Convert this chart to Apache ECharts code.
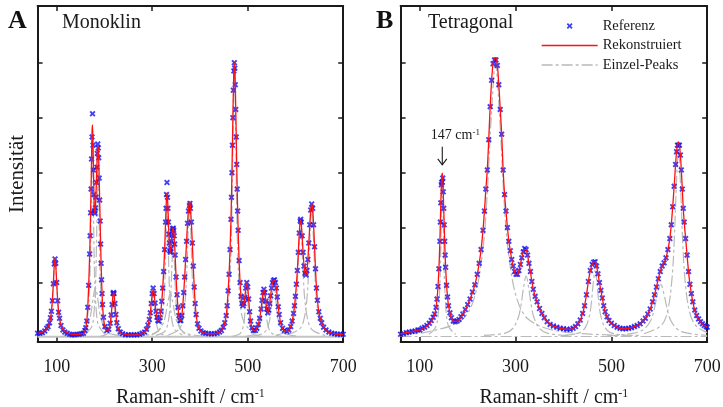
<!DOCTYPE html>
<html><head><meta charset="utf-8">
<script src="https://cdn.jsdelivr.net/npm/echarts@6/dist/echarts.min.js"></script>
<style>html,body{margin:0;padding:0;background:#fff}#c{width:723px;height:407px}</style>
</head><body><div id="c"></div>
<script>
// ---------- Data ----------
const xTicks = [100, 300, 500, 700];
const yTicks = [1, 2, 3, 4, 5];

// Panel A (Monoklin): wavenumbers, reconstructed fit, reference data
const xA = [60,65,70,75,79,82,85,87,89,91,93,95,96.5,98,100,102,104,106,109,113,117,122,127,132,137,142,147,152,156,159,161,163,165,167,169,170,171,172,173,174,175,176,177,178,179,180,181,182,183,184,185,186,187,188,189,190,191,192,193,194,195,196,198,201,205,209,212,214,216,218,219,220,222,224,226,229,233,238,244,250,256,262,268,274,279,284,288,291,294,296,298,300,302,304,306,308,310,312,314,316,318,320,322,324,326,328,329,330,331,332,333,334,335,336,337,338,339,340,341,342,343,344,345,346,347,348,350,352,354,356,358,360,362,364,366,368,370,372,374,376,378,379,380,382,384,386,388,390,392,395,398,402,407,412,418,424,430,436,441,445,449,452,455,457,459,461,463,465,466,467,468,469,470,471,472,473,474,475,476,477,478,479,480,482,484,486,488,490,492,494,496,498,500,502,504,506,509,512,516,519,522,525,528,530,532,534,536,538,540,542,544,546,548,550,552,554,556,558,560,562,564,566,569,573,577,582,586,590,593,596,598,600,602,604,606,608,610,611,612,614,616,618,620,622,624,626,628,630,632,634,636,638,640,642,644,646,649,652,655,659,664,670,676,682,688,694,700];
const fitA = [0.08,0.085,0.1,0.12,0.16,0.2,0.27,0.35,0.48,0.68,0.99,1.33,1.45,1.33,0.99,0.68,0.47,0.34,0.23,0.15,0.11,0.09,0.07,0.06,0.06,0.06,0.06,0.07,0.08,0.12,0.18,0.3,0.55,0.95,1.5,1.85,2.25,2.7,3.25,3.75,3.87,3.55,3.05,2.6,2.32,2.26,2.35,2.55,2.8,3.1,3.35,3.5,3.45,3.25,2.9,2.5,2.1,1.7,1.35,1.05,0.8,0.6,0.36,0.2,0.13,0.15,0.25,0.4,0.6,0.78,0.82,0.8,0.62,0.42,0.27,0.16,0.1,0.07,0.06,0.05,0.05,0.05,0.05,0.06,0.08,0.1,0.15,0.22,0.33,0.45,0.62,0.78,0.87,0.8,0.63,0.48,0.37,0.31,0.3,0.36,0.48,0.65,0.9,1.2,1.6,2.1,2.35,2.55,2.63,2.55,2.35,2.1,1.88,1.7,1.58,1.55,1.62,1.75,1.86,1.94,1.98,1.99,1.95,1.85,1.7,1.5,1.1,0.78,0.55,0.4,0.31,0.31,0.4,0.58,0.82,1.1,1.42,1.75,2.08,2.33,2.47,2.46,2.38,2.1,1.72,1.3,0.92,0.62,0.42,0.25,0.17,0.12,0.09,0.08,0.07,0.07,0.07,0.08,0.1,0.13,0.19,0.27,0.4,0.58,0.85,1.15,1.6,2.15,2.55,3.0,3.5,4.0,4.5,4.85,5.0,4.9,4.6,4.15,3.65,3.15,2.7,2.3,1.95,1.4,1.0,0.75,0.62,0.58,0.62,0.73,0.9,0.99,0.92,0.7,0.47,0.3,0.18,0.13,0.13,0.17,0.24,0.35,0.52,0.68,0.82,0.88,0.82,0.66,0.52,0.45,0.5,0.62,0.76,0.9,1.0,1.04,1.05,1.0,0.9,0.74,0.56,0.42,0.27,0.17,0.13,0.11,0.14,0.2,0.3,0.44,0.58,0.75,0.97,1.22,1.55,1.9,2.12,2.15,2.1,1.85,1.55,1.3,1.17,1.14,1.22,1.42,1.72,2.05,2.32,2.43,2.35,2.05,1.65,1.25,0.9,0.68,0.47,0.35,0.27,0.19,0.14,0.1,0.08,0.07,0.06,0.06,0.06];
const refA = [0.08,0.08,0.09,0.12,0.17,0.2,0.27,0.36,0.48,0.67,0.98,1.34,1.43,1.35,1.0,0.67,0.46,0.35,0.22,0.14,0.1,0.08,0.06,0.05,0.05,0.06,0.06,0.07,0.08,0.13,0.18,0.3,0.55,0.95,1.52,1.85,2.27,2.7,3.25,3.65,4.07,3.5,3.05,2.6,2.3,2.26,2.36,2.55,2.82,3.1,3.35,3.52,3.45,3.27,2.9,2.5,2.12,1.7,1.35,1.05,0.8,0.6,0.37,0.2,0.13,0.15,0.26,0.41,0.6,0.8,0.82,0.8,0.62,0.42,0.27,0.16,0.1,0.07,0.05,0.05,0.05,0.05,0.05,0.06,0.08,0.1,0.15,0.23,0.33,0.45,0.62,0.8,0.9,0.8,0.63,0.48,0.37,0.31,0.3,0.36,0.48,0.66,0.9,1.2,1.6,2.1,2.35,2.6,2.82,2.55,2.35,2.1,1.88,1.72,1.58,1.55,1.62,1.75,1.86,1.94,1.98,1.99,1.95,1.85,1.7,1.5,1.1,0.78,0.55,0.4,0.31,0.31,0.4,0.58,0.82,1.1,1.42,1.75,2.08,2.3,2.4,2.44,2.35,2.1,1.72,1.3,0.92,0.62,0.42,0.25,0.17,0.12,0.09,0.08,0.07,0.07,0.07,0.08,0.1,0.13,0.19,0.27,0.4,0.58,0.85,1.15,1.6,2.15,2.55,3.0,3.5,4.0,4.5,4.85,5.0,4.9,4.6,4.15,3.65,3.15,2.7,2.3,1.95,1.4,1.0,0.75,0.62,0.58,0.62,0.73,0.9,1.0,0.92,0.7,0.47,0.3,0.18,0.13,0.13,0.17,0.24,0.35,0.52,0.68,0.82,0.88,0.82,0.66,0.52,0.45,0.5,0.62,0.76,0.9,1.0,1.04,1.05,1.0,0.9,0.74,0.56,0.42,0.27,0.17,0.13,0.11,0.14,0.2,0.3,0.44,0.58,0.75,0.97,1.22,1.55,1.9,2.12,2.15,2.1,1.85,1.55,1.3,1.17,1.14,1.22,1.42,1.72,2.05,2.32,2.43,2.35,2.05,1.65,1.25,0.9,0.68,0.47,0.35,0.27,0.19,0.14,0.1,0.08,0.07,0.06,0.06,0.06];

// Panel B (Tetragonal)
const xB = [60,66,72,78,84,90,96,100,105,110,115,120,124,128,131,134,136,138,140,142,143,144,145,146,147,148,149,150,151,152,153,154,156,158,160,163,166,170,174,178,182,186,190,195,200,205,210,215,220,224,228,232,235,238,241,244,247,250,253,256,259,262,265,268,271,274,277,280,283,286,289,292,295,298,301,304,307,310,313,316,319,322,325,328,331,334,337,341,345,350,355,360,366,372,379,386,393,400,407,414,420,425,430,435,440,444,448,452,456,460,463,466,469,472,475,478,481,484,487,491,495,500,506,512,518,524,530,536,542,548,554,560,566,571,576,581,586,590,594,598,602,606,610,614,618,622,625,628,631,634,636,638,640,642,644,646,648,650,652,655,658,661,664,667,670,674,678,682,686,690,694,698,700];
const fitB = [0.07,0.08,0.09,0.1,0.11,0.12,0.13,0.14,0.16,0.18,0.21,0.25,0.3,0.36,0.42,0.55,0.7,0.92,1.25,1.75,2.1,2.45,2.75,2.93,2.99,2.9,2.65,2.35,2.05,1.75,1.5,1.28,0.95,0.74,0.58,0.45,0.36,0.31,0.29,0.3,0.33,0.37,0.43,0.5,0.6,0.7,0.82,0.96,1.15,1.35,1.6,1.95,2.3,2.7,3.05,3.6,4.2,4.68,4.98,5.08,5.09,4.95,4.6,4.15,3.7,3.05,2.6,2.3,2.0,1.75,1.58,1.42,1.3,1.2,1.13,1.15,1.22,1.33,1.45,1.56,1.6,1.6,1.5,1.35,1.2,1.02,0.88,0.75,0.65,0.53,0.44,0.36,0.29,0.24,0.21,0.19,0.17,0.16,0.15,0.15,0.17,0.2,0.25,0.32,0.44,0.58,0.78,1.02,1.22,1.33,1.37,1.38,1.3,1.16,1.0,0.86,0.72,0.58,0.47,0.38,0.31,0.26,0.22,0.19,0.17,0.16,0.16,0.17,0.18,0.2,0.22,0.25,0.3,0.35,0.43,0.52,0.65,0.78,0.92,1.07,1.2,1.3,1.36,1.45,1.6,1.8,2.05,2.38,2.75,3.15,3.38,3.52,3.56,3.5,3.32,3.05,2.7,2.35,2.1,1.8,1.5,1.2,0.97,0.8,0.65,0.5,0.4,0.34,0.29,0.25,0.22,0.2,0.19];
const refB = [0.06,0.07,0.09,0.1,0.11,0.12,0.14,0.14,0.17,0.19,0.22,0.26,0.31,0.37,0.43,0.55,0.7,0.93,1.25,1.75,2.1,2.45,2.78,2.82,2.83,2.9,2.65,2.35,2.05,1.75,1.5,1.28,0.95,0.74,0.58,0.45,0.36,0.3,0.29,0.3,0.33,0.38,0.43,0.51,0.6,0.7,0.83,0.96,1.15,1.35,1.6,1.95,2.3,2.7,3.05,3.6,4.2,4.68,4.98,5.05,5.05,4.95,4.6,4.15,3.7,3.05,2.6,2.3,2.0,1.75,1.58,1.42,1.3,1.2,1.15,1.15,1.22,1.33,1.45,1.56,1.62,1.6,1.5,1.35,1.2,1.02,0.88,0.75,0.65,0.53,0.44,0.36,0.29,0.24,0.21,0.19,0.17,0.16,0.15,0.15,0.17,0.2,0.25,0.32,0.44,0.58,0.78,1.02,1.22,1.33,1.37,1.38,1.3,1.16,1.0,0.86,0.72,0.58,0.47,0.38,0.31,0.26,0.22,0.19,0.17,0.16,0.16,0.17,0.18,0.2,0.22,0.25,0.3,0.35,0.43,0.52,0.65,0.78,0.92,1.07,1.2,1.3,1.36,1.45,1.6,1.8,2.05,2.38,2.75,3.15,3.38,3.5,3.5,3.5,3.32,3.05,2.7,2.35,2.1,1.8,1.5,1.2,0.97,0.8,0.65,0.5,0.4,0.34,0.29,0.25,0.22,0.2,0.19];

// Single fitted peaks (Einzel-Peaks), each as x and y lists
const peaksAX = [
  [60,74.5,82.75,88.25,91,93.75,96.5,99.25,102,104.75,110.25,118.5,140.5],
  [148,161,166,169.5,171.2,172.9,174.5,176.1,177.8,179.5,182.8,187.7,201],
  [160,173.3,178.2,181.5,183.2,184.9,186.5,188.1,189.8,191.5,194.8,199.7,213],
  [109,145,158.5,167.5,172,176.5,181,185.5,190,194.5,203.5,217,253],
  [190.5,204.5,209.75,213.25,215,216.75,218.5,220.25,222,223.75,227.25,232.5,246.5],
  [266,284,290.75,295.25,297.5,299.75,302,304.25,306.5,308.75,313.25,320,338],
  [299,315,321,325,327,329,331,333,335,337,341,347,363],
  [258,298,313,323,328,333,338,343,348,353,363,378,418],
  [308,326,332.75,337.25,339.5,341.75,344,346.25,348.5,350.75,355.25,362,380],
  [334,356,364.25,369.75,372.5,375.25,378,380.75,383.5,386.25,391.75,400,422],
  [433.6,452.8,460,464.8,467.2,469.6,472,474.4,476.8,479.2,484,491.2,510.4],
  [466,482,488,492,494,496,498,500,502,504,508,514,530],
  [494,514,521.5,526.5,529,531.5,534,536.5,539,541.5,546.5,554,574],
  [507,531,540,546,549,552,555,558,561,564,570,579,603],
  [558.5,584.5,594.25,600.75,604,607.25,610.5,613.75,617,620.25,626.75,636.5,662.5],
  [582,608,617.75,624.25,627.5,630.75,634,637.25,640.5,643.75,650.25,660,686]
];
const peaksAY = [
  [0.04,0.09,0.2,0.44,0.71,1.13,1.41,1.13,0.71,0.44,0.2,0.09,0.03],
  [0.06,0.22,0.5,1.1,1.79,2.85,3.56,2.85,1.79,1.1,0.5,0.22,0.06],
  [0.06,0.2,0.46,1.01,1.63,2.61,3.26,2.61,1.63,1.01,0.46,0.2,0.06],
  [0.02,0.06,0.13,0.29,0.46,0.73,0.91,0.73,0.46,0.29,0.13,0.06,0.02],
  [0.02,0.06,0.12,0.25,0.4,0.63,0.79,0.63,0.4,0.25,0.12,0.06,0.02],
  [0.02,0.06,0.12,0.26,0.41,0.65,0.81,0.65,0.41,0.26,0.12,0.06,0.02],
  [0.05,0.15,0.33,0.73,1.19,1.89,2.36,1.89,1.19,0.73,0.33,0.15,0.05],
  [0.02,0.06,0.12,0.26,0.41,0.65,0.81,0.65,0.41,0.26,0.12,0.06,0.02],
  [0.04,0.11,0.25,0.55,0.89,1.41,1.76,1.41,0.89,0.55,0.25,0.11,0.04],
  [0.05,0.15,0.34,0.75,1.21,1.93,2.41,1.93,1.21,0.75,0.34,0.15,0.05],
  [0.09,0.3,0.69,1.53,2.49,3.97,4.96,3.97,2.49,1.53,0.69,0.3,0.09],
  [0.02,0.06,0.13,0.27,0.44,0.69,0.86,0.69,0.44,0.27,0.13,0.06,0.02],
  [0.02,0.06,0.12,0.26,0.41,0.65,0.81,0.65,0.41,0.26,0.12,0.06,0.02],
  [0.025,0.07,0.15,0.32,0.51,0.81,1.01,0.81,0.51,0.32,0.15,0.07,0.025],
  [0.04,0.13,0.29,0.63,1.01,1.61,2.01,1.61,1.01,0.63,0.29,0.13,0.04],
  [0.05,0.15,0.33,0.73,1.19,1.89,2.36,1.89,1.19,0.73,0.33,0.15,0.05]
];
const peaksBX = [
  [119,133,138.25,141.75,143.5,145.25,147,148.75,150.5,152.25,155.75,161,175],
  [60,114,186,213,231,240,249,258,267,276,285,303,330,402,560],
  [234,278,294.5,305.5,311,316.5,322,327.5,333,338.5,349.5,366,410],
  [402,434,446,454,458,462,466,470,474,478,486,498,530],
  [491,547,568,582,589,596,603,610,617,624,638,659,700],
  [568,604,617.5,626.5,631,635.5,640,644.5,649,653.5,662.5,676,700]
];
const peaksBY = [
  [0.06,0.19,0.41,0.9,1.45,2.3,2.87,2.3,1.45,0.9,0.41,0.19,0.06],
  [0.06,0.1,0.31,0.7,1.55,2.5,3.98,4.97,3.98,2.5,1.55,0.7,0.31,0.1,0.04],
  [0.04,0.08,0.17,0.36,0.57,0.9,1.12,0.9,0.57,0.36,0.17,0.08,0.04],
  [0.04,0.09,0.19,0.39,0.62,0.98,1.22,0.98,0.62,0.39,0.19,0.09,0.04],
  [0.03,0.08,0.15,0.31,0.5,0.78,0.97,0.78,0.5,0.31,0.15,0.08,0.04],
  [0.07,0.22,0.49,1.07,1.72,2.74,3.42,2.74,1.72,1.07,0.49,0.22,0.09]
];
const baseX = [60, 700];
const baseAY = [0.015, 0.015];
const baseBY = [0.02, 0.02];

const annotX = 147;          // annotated peak (cm^-1)
const annotTextY = 3.68, annotArrowTop = 3.47, annotArrowEnd = 3.14;

// ---------- Chart ----------
const FONT = '"Liberation Serif", "Times New Roman", serif';
const INK = '#1a1a1a';
const zip = (xs, ys) => xs.map((x, i) => [x, ys[i]]);
const xSym = 'path://M0,2.2L2.2,0L5,2.8L7.8,0L10,2.2L7.2,5L10,7.8L7.8,10L5,7.2L2.2,10L0,7.8L2.8,5Z';
const frame = { onZero: false, lineStyle: { color: INK, width: 2 } };
const tick = { inside: true, length: 5, lineStyle: { color: INK, width: 1.5 } };
const GRAY = '#b9b9b9', DASH = [11, 3, 3, 3], RED = '#ff1010', BLUE = '#1212f2';

const xAxes = [], yAxes = [];
[0, 1].forEach(g => {
  xAxes.push({
    type: 'value', gridIndex: g, min: 60, max: 700, position: 'bottom',
    axisLine: frame, axisTick: Object.assign({ customValues: xTicks }, tick),
    axisLabel: { customValues: xTicks, fontFamily: FONT, fontSize: 18, color: INK, margin: 16 },
    splitLine: { show: false },
    name: 'Raman-shift / cm{sup|-1}', nameLocation: 'middle', nameGap: 46,
    nameTextStyle: { fontFamily: FONT, fontSize: 20, color: INK,
      rich: { sup: { fontFamily: FONT, fontSize: 12, color: INK, verticalAlign: 'top', lineHeight: 20 } } }
  });
  xAxes.push({
    type: 'value', gridIndex: g, min: 60, max: 700, position: 'top',
    axisLine: frame, axisTick: Object.assign({ customValues: xTicks }, tick),
    axisLabel: { show: false }, splitLine: { show: false }
  });
  yAxes.push({
    type: 'value', gridIndex: g, min: -0.08, max: 6.03, position: 'left',
    axisLine: frame, axisTick: Object.assign({ customValues: yTicks }, tick),
    axisLabel: { show: false }, splitLine: { show: false },
    name: g === 0 ? 'Intensität' : '', nameLocation: 'middle', nameGap: 10,
    nameTextStyle: { fontFamily: FONT, fontSize: 21, color: INK }
  });
  yAxes.push({
    type: 'value', gridIndex: g, min: -0.08, max: 6.03, position: 'right',
    axisLine: frame, axisTick: Object.assign({ customValues: yTicks }, tick),
    axisLabel: { show: false }, splitLine: { show: false }
  });
});

const grayStyle = { color: GRAY, width: 1.2, type: DASH };
const series = [];
function addPanel(g, xs, fit, ref, pX, pY, baseY) {
  const xi = g * 2, yi = g * 2;
  series.push({ name: 'Referenz', type: 'scatter', xAxisIndex: xi, yAxisIndex: yi,
    data: zip(xs, ref), symbol: xSym, symbolSize: 6, symbolKeepAspect: true,
    itemStyle: { color: BLUE }, silent: true, z: 3 });
  series.push({ name: 'Rekonstruiert', type: 'line', xAxisIndex: xi, yAxisIndex: yi,
    data: zip(xs, fit), symbol: 'none', smooth: 0.25, silent: true,
    itemStyle: { color: RED }, lineStyle: { color: RED, width: 1.3 }, z: 4 });
  pX.forEach((px, k) => series.push({ name: 'Einzel-Peaks', type: 'line', xAxisIndex: xi, yAxisIndex: yi,
    data: zip(px, pY[k]), symbol: 'none', smooth: 0.35, silent: true,
    itemStyle: { color: GRAY }, lineStyle: grayStyle, z: 2 }));
  series.push({ name: 'Einzel-Peaks', type: 'line', xAxisIndex: xi, yAxisIndex: yi,
    data: zip(baseX, baseY), symbol: 'none', silent: true, itemStyle: { color: GRAY },
    lineStyle: g === 0 ? { color: '#c4c4c4', width: 2 } : grayStyle, z: 1 });
}
addPanel(0, xA, fitA, refA, peaksAX, peaksAY, baseAY);
addPanel(1, xB, fitB, refB, peaksBX, peaksBY, baseBY);

const chart = echarts.init(document.getElementById('c'), null, { renderer: 'canvas' });
chart.setOption({
  animation: false,
  backgroundColor: '#fff',
  textStyle: { fontFamily: FONT },
  grid: [
    { left: 37.6, top: 6, width: 305.6, height: 336, containLabel: false, outerBoundsMode: 'none' },
    { left: 400.6, top: 6, width: 306.6, height: 336, containLabel: false, outerBoundsMode: 'none' }
  ],
  xAxis: xAxes, yAxis: yAxes,
  legend: {
    data: [
      { name: 'Referenz' },
      { name: 'Rekonstruiert', itemStyle: { opacity: 0 }, lineStyle: { color: RED, width: 1.3, type: 'solid' } },
      { name: 'Einzel-Peaks', itemStyle: { opacity: 0 }, lineStyle: { color: GRAY, width: 1.3, type: DASH } }
    ],
    orient: 'vertical', left: 541, top: 18, itemWidth: 56, itemHeight: 6, itemGap: 3.5,
    selectedMode: false, padding: 0,
    textStyle: { fontFamily: FONT, fontSize: 14.5, color: INK, lineHeight: 16 }
  },
  series: series
});

// Panel captions and the annotation, positioned through the axes
const px = chart.convertToPixel({ xAxisIndex: 2 }, annotX);
const pyT = chart.convertToPixel({ yAxisIndex: 2 }, annotTextY);
const pyA = chart.convertToPixel({ yAxisIndex: 2 }, annotArrowTop);
const pyE = chart.convertToPixel({ yAxisIndex: 2 }, annotArrowEnd);
chart.setOption({
  graphic: [
    { type: 'text', x: 8, y: 21, style: { text: 'A', font: 'bold 26px ' + FONT, fill: '#111', verticalAlign: 'middle' } },
    { type: 'text', x: 62, y: 23, style: { text: 'Monoklin', font: '20px ' + FONT, fill: INK, verticalAlign: 'middle' } },
    { type: 'text', x: 376, y: 21, style: { text: 'B', font: 'bold 26px ' + FONT, fill: '#111', verticalAlign: 'middle' } },
    { type: 'text', x: 428, y: 23, style: { text: 'Tetragonal', font: '20px ' + FONT, fill: INK, verticalAlign: 'middle' } },
    { type: 'text', x: px - 11.5, y: pyT, style: { text: '147 cm{sup|-1}', font: '14px ' + FONT, fill: INK,
        verticalAlign: 'middle', rich: { sup: { fontSize: 9, fontFamily: FONT, verticalAlign: 'top', lineHeight: 14 } } } },
    { type: 'line', shape: { x1: px, y1: pyA, x2: px, y2: pyE }, style: { stroke: INK, lineWidth: 1.1 } },
    { type: 'polyline', shape: { points: [[px - 4.5, pyE - 6], [px, pyE], [px + 4.5, pyE - 6]] }, style: { stroke: INK, lineWidth: 1.1, fill: null } }
  ]
});
</script></body></html>
